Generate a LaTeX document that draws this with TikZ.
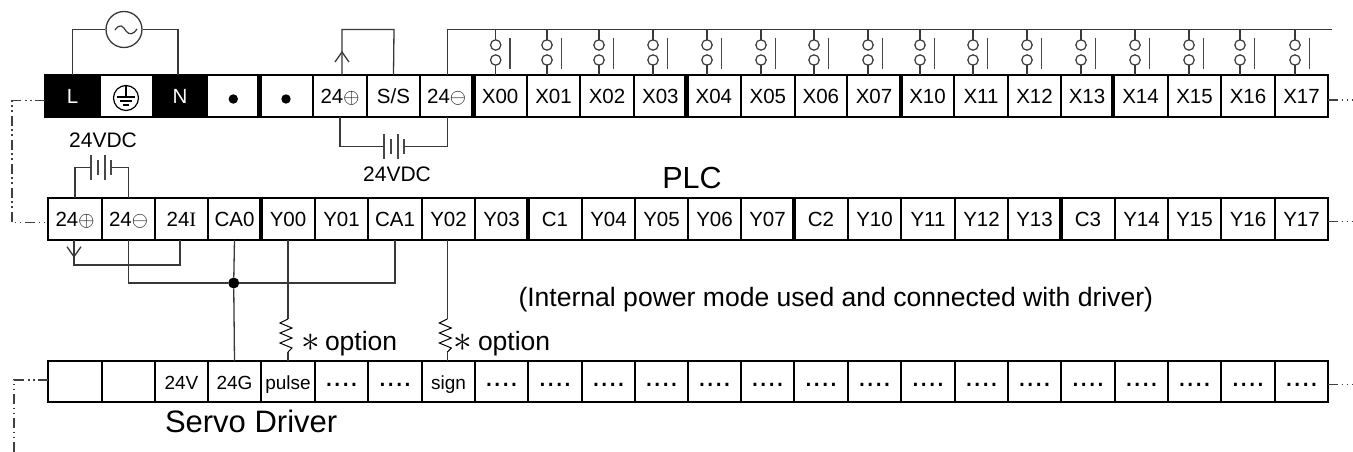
\documentclass[tikz,border=0pt]{standalone}
\usepackage{graphicx}
\usepackage{fontspec}
\setmainfont{Liberation Sans}
\newfontfamily\serifI{Liberation Serif}
\newcommand{\fsz}[1]{\fontsize{#1}{#1}\selectfont}
\tikzset{
  cellbase/.style={draw=black,line width=1.8pt,inner sep=0pt,outer sep=0pt,align=center,text depth=0pt},
  rowone/.style={cellbase,minimum height=41.7pt,font=\fsz{20.5},text height=14.4pt},
  rowtwo/.style={cellbase,minimum height=41.9pt,font=\fsz{20.5},text height=16pt},
  rowthree/.style={cellbase,minimum height=40.7pt,font=\fsz{19},text height=16.4pt},
  rowdots/.style={cellbase,minimum height=40.7pt,font=\fsz{30},text height=10pt},
  blackcell/.style={fill=black,text=white},
  heavy/.style={line width=4.6pt,black},
  wire/.style={draw=black!78,line width=1.3pt},
  plate/.style={draw=black!72,line width=1.5pt},
  dashline/.style={draw=black!75,line width=1.1pt,dash pattern=on 10pt off 3.5pt on 1.5pt off 3.5pt on 1.5pt off 4pt},
  swcircle/.style={circle,draw=black!78,line width=1.2pt,fill=white,minimum size=10.4pt,inner sep=0pt,outer sep=0pt},
  batt/.pic={
    \draw[plate] (-10,-12.5) -- (-10,12.5);
    \draw[plate] (-3,-7.5) -- (-3,7.5);
    \draw[plate] (4,-12.5) -- (4,12.5);
    \draw[plate] (10,-7.5) -- (10,7.5);
  },
  rzig/.pic={
    \draw[draw=black,line width=1pt] (0,0) -- (-8,4) -- (4,9) -- (-8,14) -- (4,19) -- (-8,24) -- (4,29) -- (0,33);
  },
  plain/.style={inner sep=0pt,outer sep=0pt,anchor=base}
}
\begin{document}
\begin{tikzpicture}[x=1pt,y=-1pt]
\useasboundingbox (0,0) rectangle (1353,452);

% --- row 1 ---
\foreach \nm/\xa/\xb/\txt in {
  Lt/45/100/{L},
  Nt/153/207/{N}}{
  \node[rowone,blackcell,minimum width={\xb-\xa}] (\nm) at ({(\xa+\xb)/2},96.1) {\txt};
}
\foreach \nm/\xa/\xb/\txt in {
  Et/100/153/{},
  NCa/207/259.5/{},
  NCb/259.5/313/{},
  Pf/313/367/{24$\oplus$},
  SS/367/420/{S/S},
  Mf/420/473.3/{24$\ominus$},
  x00/473.3/527/{X00},x01/527/580/{X01},x02/580/634/{X02},x03/634/686.7/{X03},
  x04/686.7/741/{X04},x05/741/794.7/{X05},x06/794.7/847/{X06},x07/847/901/{X07},
  x10/901/954/{X10},x11/954/1008/{X11},x12/1008/1061/{X12},x13/1061/1113/{X13},
  x14/1113/1168/{X14},x15/1168/1221/{X15},x16/1221/1275/{X16},x17/1275/1328/{X17}}{
  \node[rowone,minimum width={\xb-\xa}] (\nm) at ({(\xa+\xb)/2},96.1) {\txt};
}
\foreach \nm in {NCb,x00,x04,x10,x14}{
  \draw[heavy] (\nm.north west) -- (\nm.south west);
}

% earth symbol
\node[circle,draw=black,line width=1.2pt,minimum size=25pt,inner sep=0pt] (gnd) at (126,98) {};
\draw[line width=1.1pt] (gnd.north) -- (126,97);
\draw[line width=1.1pt] (117,97) -- (135,97);
\draw[line width=1.1pt] (120,101) -- (132,101);
\draw[line width=1.1pt] (123,105) -- (129,105);

% dots in unused terminals
\node[circle,fill=black,minimum size=9.4pt,inner sep=0pt] (dota) at (233.3,99) {};
\node[circle,fill=black,minimum size=9.4pt,inner sep=0pt] (dotb) at (286,99) {};

% --- row 2 ---
\foreach \nm/\xa/\xb/\txt in {
  Pm/48/102/{24$\oplus$},
  Mm/102/155/{24$\ominus$},
  Im/155/208/{24{\serifI I}},
  CAz/208/261/{CA0},
  y00/261/315/{Y00},y01/315/368/{Y01},CAo/368/422/{CA1},y02/422/475/{Y02},y03/475/528/{Y03},
  Cone/528/582/{C1},y04/582/635/{Y04},y05/635/688/{Y05},y06/688/741/{Y06},y07/741/794/{Y07},
  Ctwo/794/848/{C2},y10/848/901/{Y10},y11/901/955/{Y11},y12/955/1008/{Y12},y13/1008/1061/{Y13},
  Cthr/1061/1115/{C3},y14/1115/1168/{Y14},y15/1168/1221/{Y15},y16/1221/1275/{Y16},y17/1275/1328/{Y17}}{
  \node[rowtwo,minimum width={\xb-\xa}] (\nm) at ({(\xa+\xb)/2},218.75) {\txt};
}
\foreach \nm in {y00,Cone,Ctwo,Cthr}{
  \draw[heavy] (\nm.north west) -- (\nm.south west);
}

% --- row 3 ---
\foreach \nm/\xa/\xb/\txt in {
  da/48/102/{},db/102/155/{},
  dv/155/208/{24V},dg/208/261/{24G},dp/261/315/{pulse},ds/422/475/{sign}}{
  \node[rowthree,minimum width={\xb-\xa}] (\nm) at ({(\xa+\xb)/2},381.3) {\txt};
}
\foreach \nm/\xa/\xb in {
  de/315/368,df/368/422,dh/475/528,di/528/582,dj/582/635,dk/635/688,dl/688/741,
  dm/741/794,dn/794/848,dq/848/901,dr/901/955,dt/955/1008,du/1008/1061,dw/1061/1115,
  dx/1115/1168,dy/1168/1221,dz/1221/1275,dzz/1275/1328}{
  \node[rowdots,minimum width={\xb-\xa}] (\nm) at ({(\xa+\xb)/2},381.3) {....};
}

% --- AC source ---
\node[circle,draw=black!78,line width=1.3pt,minimum size=36pt,inner sep=0pt] (ac) at (124,29.5) {};
\draw[black!78,line width=1.2pt] (115,30) .. controls (120,23) and (123,26) .. (126,31) .. controls (129,35) and (133,35) .. (137,29);
\draw[wire] (Lt.north) |- (ac.west);
\draw[wire] (ac.east) -| ([xshift=-2pt]Nt.north);

% --- link 24+ to S/S ---
\coordinate (linktop) at (394,29.5);
\coordinate (uptip) at (342,52);
\draw[wire] ([xshift=2pt]Pf.north) |- (linktop) -- (SS.north);
\draw[wire] ([shift={(-7,10)}]uptip) -- (uptip) -- ([shift={(7,10)}]uptip);

% --- input common bus and switches ---
\coordinate (busend) at (1331.7,29.5);
\draw[wire] ([xshift=1pt]Mf.north) |- (busend);
\foreach \i/\x in {x00/495.7,x01/547,x02/599,x03/653,x04/707,x05/761,x06/814,x07/868,
                   x10/920,x11/973,x12/1027,x13/1081,x14/1135,x15/1189,x16/1240,x17/1295}{
  \node[swcircle] (\i a) at (\x,45) {};
  \node[swcircle] (\i b) at (\x,60) {};
  \coordinate (\i t) at (\x,29.5);
  \draw[wire] (\i t) -- (\i a);
  \draw[wire] (\i b) -- (\i b|-\i.north);
  \draw[plate] (\x+14.3,37.7) -- (\x+14.3,69);
}

% --- batteries ---
\coordinate (batA) at (394,146.5);
\coordinate (batAl) at (384,146.5);
\coordinate (batAr) at (404,146.5);
\pic at (batA) {batt};
\draw[wire] (Pf.south) |- (batAl);
\draw[wire] ([xshift=1pt]Mf.south) |- (batAr);
\coordinate (batB) at (101,167.3);
\coordinate (batBl) at (91,167.3);
\coordinate (batBr) at (111,167.3);
\pic at (batB) {batt};
\draw[wire] (Pm.north) |- (batBl);
\draw[wire] (Mm.north) |- (batBr);

% --- row 2 lower wiring ---
\coordinate (dntip) at (74,256.7);
\draw[wire] ([xshift=-1pt]Pm.south) |- (180,265) -- ([xshift=-1.5pt]Im.south);
\draw[wire] ([shift={(-7,-10)}]dntip) -- (dntip) -- ([shift={(7,-10)}]dntip);
\node[circle,fill=black,minimum size=11pt,inner sep=0pt] (jn) at (233.7,283) {};
\draw[wire] (Mm.south) |- (jn);
\draw[wire] (jn) -| (CAo.south);
\draw[wire] (CAz.south) -- (jn);
\draw[wire] (jn) -- (dg.north);

% --- resistors ---
\coordinate (ra) at (288,319);
\coordinate (rb) at (288,352);
\pic at (ra) {rzig};
\draw[wire] (y00.south) -- (ra);
\draw[wire] (rb) -- (dp.north);
\coordinate (rc) at (447.3,319);
\coordinate (rd) at (447.3,352);
\pic at (rc) {rzig};
\draw[wire] ([xshift=-1.2pt]y02.south) -- (rc);
\draw[wire] (rd) -- ([xshift=-1.2pt]ds.north);

% --- dash-dot continuation lines ---
\coordinate (la) at (12,100.7);
\coordinate (lb) at (12,222.7);
\coordinate (lc) at (14,380);
\coordinate (ld) at (14,452);
\draw[dashline] (Lt.west|-la) -- (la) -- (lb) -- (Pm.west|-lb);
\draw[dashline] (da.west|-lc) -- (lc) -- (ld);
\coordinate (rx) at (1353,100);
\coordinate (ry) at (1353,221.7);
\coordinate (rz) at (1353,384.3);
\draw[dashline] (x17.east|-rx) -- (rx);
\draw[dashline] (y17.east|-ry) -- (ry);
\draw[dashline] (dzz.east|-rz) -- (rz);

% --- texts ---
\node[plain,font=\fsz{21}] (vdca) at (103,147.7) {24VDC};
\node[plain,font=\fsz{21}] (vdcb) at (397,181.7) {24VDC};
\node[plain,font=\fsz{30.5}] (plc) at (692,188.3) {PLC};
\node[plain,font=\fsz{26.55},anchor=base west] (note) at (518.5,306.7) {(Internal power mode used and connected with driver)};
\node[plain,font=\fsz{31},anchor=base west] (servo) at (165,432.7) {Servo Driver};
\node[inner sep=0pt,font=\fsz{24.88}] (stara) at (310.7,343) {\scalebox{1.5}{$\ast$}};
\node[inner sep=0pt,font=\fsz{24.88}] (starb) at (463.3,343) {\scalebox{1.5}{$\ast$}};
\node[plain,font=\fsz{26.5},anchor=base west] (opta) at (325,350.7) {option};
\node[plain,font=\fsz{26.5},anchor=base west] (optb) at (478,350.7) {option};
\end{tikzpicture}
\end{document}
